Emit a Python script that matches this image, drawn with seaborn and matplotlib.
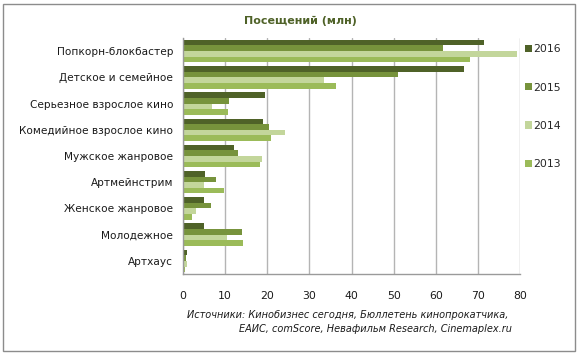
# horizontal grouped bars: cinema visits by film segment, 2013-2016

import pandas as pd
import matplotlib
matplotlib.use('Agg')
import matplotlib.pyplot as plt
import seaborn as sns
from matplotlib.patches import Rectangle

categories = ['Попкорн-блокбастер', 'Детское и семейное', 'Серьезное взрослое кино',
              'Комедийное взрослое кино', 'Мужское жанровое', 'Артмейнстрим',
              'Женское жанровое', 'Молодежное', 'Артхаус']
years = ['2016', '2015', '2014', '2013']

# values in millions of visits
v2016 = [71.5, 66.6, 19.4, 19.0, 12.1, 5.2, 5.0, 5.0, 0.9]
v2015 = [61.8, 51.1, 10.9, 20.4, 13.1, 7.8, 6.6, 13.9, 0.6]
v2014 = [79.2, 33.5, 6.9, 24.2, 18.8, 5.0, 3.2, 10.4, 0.9]
v2013 = [68.2, 36.3, 10.7, 20.9, 18.3, 9.7, 2.1, 14.3, 0.4]

colors = ['#4F6228', '#77933C', '#C3D69B', '#9BBB59']

xticks = [0, 10, 20, 30, 40, 50, 60, 70, 80]

# long table for seaborn
rows = []
for year, vals in zip(years, [v2016, v2015, v2014, v2013]):
    for cat, v in zip(categories, vals):
        rows.append({'cat': cat, 'year': year, 'value': v})
df = pd.DataFrame(rows)

sns.set_style('white')
plt.rcParams['font.family'] = ['DejaVu Sans']

fig = plt.figure(figsize=(5.79, 3.54), dpi=100)
ax = fig.add_axes([183 / 579, 80 / 354, 337 / 579, 236 / 354])

sns.barplot(data=df, y='cat', x='value', hue='year', order=categories,
            hue_order=years, palette=colors, orient='h', width=0.86,
            saturation=1, errorbar=None, linewidth=0, ax=ax)

ax.set_xlim(0, 80)
ax.set_ylim(len(categories) - 0.5, -0.5)
ax.set_xticks(xticks)
ax.set_xticklabels([str(t) for t in xticks], fontsize=7.8, color='#1a1a1a')
ax.set_yticks(range(len(categories)))
ax.set_yticklabels(categories, fontsize=7.6, color='#1a1a1a')
ax.set_yticks([i - 0.5 for i in range(len(categories) + 1)], minor=True)
ax.tick_params(axis='y', which='major', length=0, pad=7)
ax.tick_params(axis='y', which='minor', length=4, color='#9a9a9a', width=1)
ax.tick_params(axis='x', which='major', length=4, color='#9a9a9a', width=1, pad=8)
ax.set_xlabel('')
ax.set_ylabel('')

# gray vertical gridlines, drawn behind bars
ax.set_axisbelow(True)
ax.grid(axis='x', color='#b4b4b4', linewidth=1)
ax.grid(axis='y', visible=False)

for side in ['top', 'right']:
    ax.spines[side].set_visible(False)
for side in ['left', 'bottom']:
    ax.spines[side].set_color('#9a9a9a')
    ax.spines[side].set_linewidth(1)

# legend on the right, entries spread out
handles, labels = ax.get_legend_handles_labels()
ax.legend(handles, labels, loc='upper left', bbox_to_anchor=(0.995, 1.0),
          frameon=False, fontsize=7.8, labelspacing=2.6, handlelength=0.65,
          handleheight=0.65, handletextpad=0.15, borderaxespad=0.2)

fig.text(300 / 579, 1 - 21 / 354, 'Посещений (млн)', ha='center', va='center',
         fontsize=8, fontweight='bold', color='#4F6228')

fig.text(508 / 579, 1 - 315 / 354, 'Источники: Кинобизнес сегодня, Бюллетень кинопрокатчика,',
         ha='right', va='center', fontsize=7, style='italic', color='#1a1a1a')
fig.text(512 / 579, 1 - 329 / 354, 'ЕАИС, comScore, Невафильм Research, Cinemaplex.ru',
         ha='right', va='center', fontsize=7, style='italic', color='#1a1a1a')

# outer frame
fig.patches.append(Rectangle((3 / 579, 3 / 354), 572 / 579, 347 / 354,
                             transform=fig.transFigure, fill=False,
                             edgecolor='#8c8c8c', linewidth=1))

fig.savefig('out.png', dpi=100)
